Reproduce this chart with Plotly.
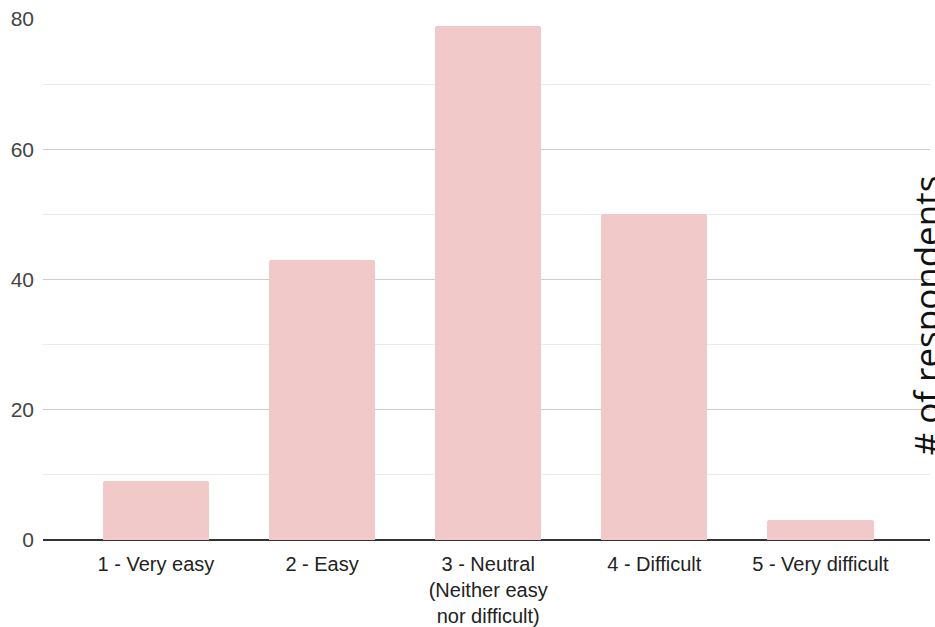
import plotly.graph_objects as go

categories = ["1 - Very easy", "2 - Easy", "3 - Neutral<br>(Neither easy<br>nor difficult)",
              "4 - Difficult", "5 - Very difficult"]
respondents = [9, 43, 79, 50, 3]
y_ticks = [0, 20, 40, 60, 80]

W, H = 935, 627
L, R, T, B = 43, 5, 19, 87

fig = go.Figure(go.Bar(
    x=list(range(len(categories))),
    y=respondents,
    width=0.64,
    marker=dict(color="#f1c9c9", line=dict(width=0), cornerradius=3),
    hoverinfo="skip",
))

fig.update_layout(
    width=W, height=H,
    margin=dict(l=L, r=R, t=T, b=B, autoexpand=False),
    paper_bgcolor="white", plot_bgcolor="white",
    showlegend=False,
    bargap=0,
    font=dict(family="Liberation Sans, Arial, sans-serif"),
)

fig.update_xaxes(
    range=[-0.68, 4.66],
    tickmode="array",
    tickvals=list(range(len(categories))),
    ticktext=categories,
    tickfont=dict(size=20, color="#222222"),
    showgrid=False, zeroline=False, showline=False,
    ticks="outside", ticklen=6, tickcolor="rgba(0,0,0,0)",
    automargin=False,
)

fig.update_yaxes(
    range=[0, 80],
    tickmode="array",
    tickvals=y_ticks,
    ticktext=[str(v) for v in y_ticks],
    tickfont=dict(size=21, color="#444444"),
    showgrid=True, gridcolor="#cccccc", gridwidth=1,
    minor=dict(dtick=10, showgrid=True, gridcolor="#ebebeb", gridwidth=1),
    zeroline=True, zerolinecolor="#333333", zerolinewidth=1.5,
    showline=False,
    ticklabelstandoff=8,
    automargin=False,
)

# axis caption drawn rotated along the right edge
plot_w = W - L - R
fig.add_annotation(
    text="# of respondents",
    textangle=-90,
    xref="paper", yref="paper",
    x=(900 - L) / plot_w, y=(H - B - 316) / (H - T - B),
    xanchor="left", yanchor="middle",
    showarrow=False,
    font=dict(family="Open Sans, Noto Sans, sans-serif", size=35, color="#111111"),
)

fig.write_html("out.html")
